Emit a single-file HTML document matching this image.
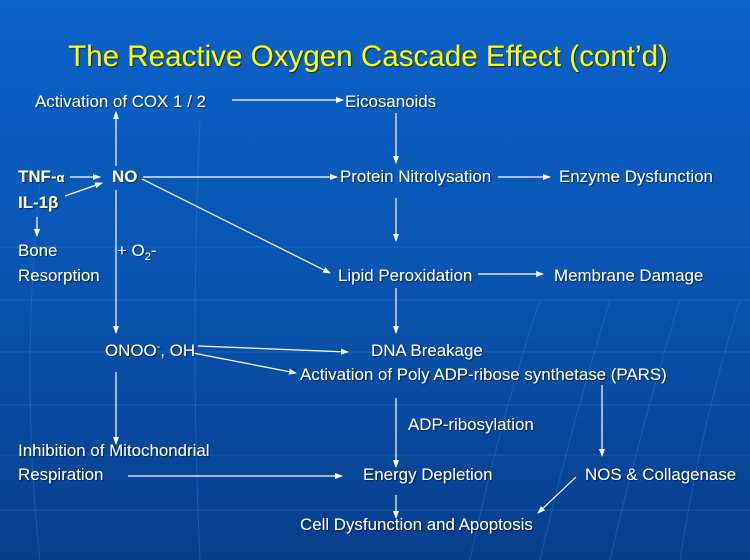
<!DOCTYPE html>
<html><head><meta charset="utf-8"><style>
html,body{margin:0;padding:0;}
body{width:750px;height:560px;overflow:hidden;background:linear-gradient(#0c62c8 0%,#0a56b4 45%,#073f8c 100%);}
svg{display:block}
text{font-family:"Liberation Sans","DejaVu Sans",sans-serif;fill:#fff;font-size:16.9px;}
</style></head><body>
<svg width="750" height="560" viewBox="0 0 750 560">
<defs>
<marker id="a" markerWidth="8" markerHeight="8" refX="7" refY="4" orient="auto" markerUnits="userSpaceOnUse"><path d="M0,1 L8,4 L0,7 Z" fill="#fff"/></marker>
<filter id="s"><feDropShadow dx="1" dy="1" stdDeviation="0.5" flood-color="#000" flood-opacity="0.6"/></filter>
</defs>
<g stroke="#3a86e0" stroke-opacity="0.35" stroke-width="1" fill="none">
<line x1="0" y1="247" x2="750" y2="247"/>
<line x1="0" y1="300" x2="750" y2="300"/>
<line x1="0" y1="352" x2="750" y2="352"/>
<line x1="0" y1="405" x2="750" y2="405"/>
<line x1="0" y1="455" x2="750" y2="455"/>
<line x1="0" y1="510" x2="750" y2="510"/>
<path d="M40,180 Q20,380 40,560"/>
<path d="M200,120 Q190,350 200,560"/>
<path d="M540,300 Q500,420 470,560"/>
<path d="M610,300 Q570,430 540,560"/>
<path d="M680,300 Q640,430 610,560"/>
<path d="M740,300 Q700,430 680,560"/>
</g>
<text x="368" y="66" text-anchor="middle" style="font-size:29.6px;fill:#ffff00" filter="url(#s)">The Reactive Oxygen Cascade Effect (cont’d)</text>
<g stroke="#fff" stroke-width="1.2" fill="none" marker-end="url(#a)">
<line x1="232" y1="100" x2="343" y2="100"/>
<line x1="116" y1="166" x2="116" y2="112"/>
<line x1="116" y1="190" x2="116" y2="333"/>
<line x1="396" y1="113" x2="396" y2="163"/>
<line x1="143" y1="177" x2="337" y2="177"/>
<line x1="498" y1="177" x2="550" y2="177"/>
<line x1="396" y1="198" x2="396" y2="241"/>
<line x1="142" y1="179" x2="330" y2="273"/>
<line x1="478" y1="274" x2="543" y2="274"/>
<line x1="396" y1="288" x2="396" y2="333"/>
<line x1="70" y1="177" x2="100" y2="177"/>
<line x1="65" y1="196" x2="102" y2="183"/>
<line x1="37" y1="217" x2="37" y2="236"/>
<line x1="198" y1="346" x2="348" y2="352"/>
<line x1="193" y1="353" x2="296" y2="373"/>
<line x1="116" y1="372" x2="116" y2="444"/>
<line x1="396" y1="398" x2="396" y2="467"/>
<line x1="602" y1="385" x2="602" y2="456"/>
<line x1="128" y1="476" x2="342" y2="476"/>
<line x1="396" y1="495" x2="396" y2="518"/>
<line x1="576" y1="477" x2="538" y2="513"/>
</g>
<g filter="url(#s)">
<text x="35" y="107">Activation of COX 1 / 2</text>
<text x="345" y="107">Eicosanoids</text>
<text x="18" y="182" style="font-weight:bold">TNF-<tspan style="font-size:13px">α</tspan></text>
<text x="112" y="182" style="font-weight:bold">NO</text>
<text x="18" y="208" style="font-weight:bold">IL-1β</text>
<text x="340" y="182">Protein Nitrolysation</text>
<text x="559" y="182">Enzyme Dysfunction</text>
<text x="18" y="256">Bone</text>
<text x="117" y="256">+ O<tspan style="font-size:11px" dy="4">2</tspan><tspan dy="-4">-</tspan></text>
<text x="18" y="281">Resorption</text>
<text x="338" y="281">Lipid Peroxidation</text>
<text x="554" y="281">Membrane Damage</text>
<text x="105" y="356">ONOO<tspan style="font-size:11px" dy="-6">-</tspan><tspan dy="6">, OH</tspan></text>
<text x="371" y="356">DNA Breakage</text>
<text x="300" y="380">Activation of Poly ADP-ribose synthetase (PARS)</text>
<text x="408" y="430">ADP-ribosylation</text>
<text x="18" y="456">Inhibition of Mitochondrial</text>
<text x="18" y="480">Respiration</text>
<text x="363" y="480">Energy Depletion</text>
<text x="585" y="480">NOS &amp; Collagenase</text>
<text x="300" y="530">Cell Dysfunction and Apoptosis</text>
</g>
</svg>
</body></html>
